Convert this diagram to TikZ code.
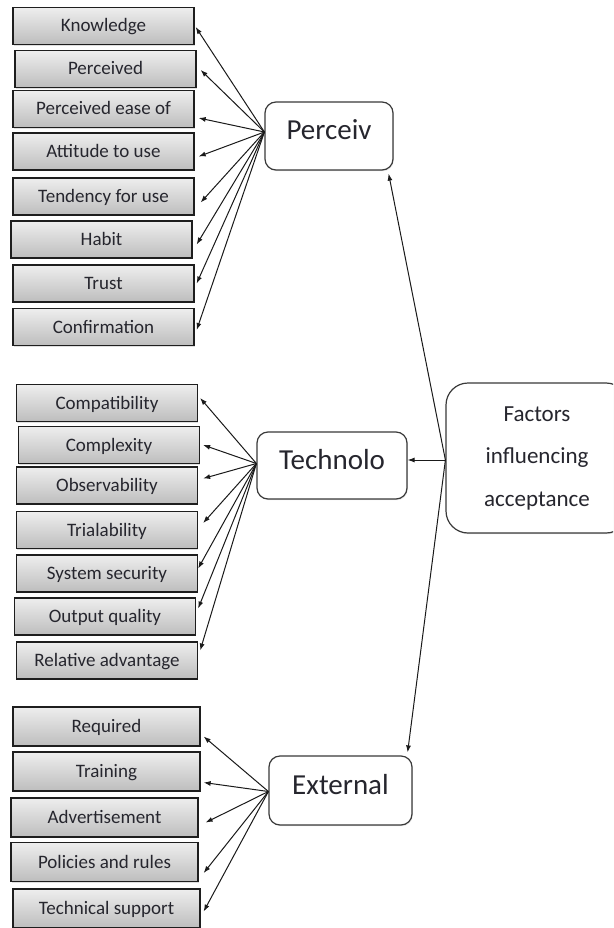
\documentclass[tikz,border=0pt]{standalone}
\usepackage{fontspec}
\setmainfont{Carlito}
\usetikzlibrary{arrows.meta,shadows}
\definecolor{txt}{HTML}{26262E}
\definecolor{boxline}{HTML}{1E1E1E}
\definecolor{hubline}{HTML}{3A3A3A}
\definecolor{arrline}{HTML}{1A1A1A}
\definecolor{gtop}{HTML}{EEEEEE}
\definecolor{gbot}{HTML}{BDBDBD}
\begin{document}
\begin{tikzpicture}[x=1pt,y=-1pt,
  leaf/.style={draw=boxline, line width=1.3pt, top color=gtop, bottom color=gbot,
    minimum width=181pt, minimum height=37pt, inner sep=0pt,
    font=\fontsize{19}{21}\selectfont, text=txt,
    text height=12pt, text depth=0pt,
    drop shadow={shadow xshift=0.8pt, shadow yshift=-1.2pt, opacity=0.25}},
  wideleaf/.style={leaf, minimum width=187pt, minimum height=39pt},
  hub/.style={draw=hubline, line width=1.2pt, fill=white, rounded corners=11pt,
    inner sep=0pt, text=txt, font=\fontsize{29}{32}\selectfont,
    text height=20pt, text depth=12.5pt,
    drop shadow={shadow xshift=0.8pt, shadow yshift=-1.2pt, opacity=0.2}},
  arr/.style={draw=arrline, line width=1pt, -{Latex[length=7pt,width=5pt]}}]
\useasboundingbox (0,0) rectangle (613,928);
\fill[white] (0,0) rectangle (613,928);
\clip (0,0) rectangle (613,928);

% hubs
\node[hub, minimum width=128pt, minimum height=68pt] (perc) at (329,136) {Perceiv};
\node[hub, minimum width=150pt, minimum height=67pt] (tech) at (332,465.5) {Technolo};
\node[hub, minimum width=143pt, minimum height=69pt] (ext) at (340.5,790.5) {External};
\node[hub, rounded corners=22pt, minimum width=182pt, minimum height=150pt,
  text height=, text depth=, align=center, font=\fontsize{23}{42.5}\selectfont]
  (fac) at (537,458) {Factors\\influencing\\acceptance};

% perceived group
\node[leaf] (p1) at (103.5,26) {Knowledge};
\node[leaf] (p2) at (105.5,69) {Perceived};
\node[leaf] (p3) at (103.5,109) {Perceived ease of};
\node[leaf] (p4) at (103.5,151.5) {Attitude to use};
\node[leaf] (p5) at (103.5,196.5) {Tendency for use};
\node[leaf] (p6) at (101.5,239.5) {Habit};
\node[leaf] (p7) at (103.5,283.5) {Trust};
\node[leaf] (p8) at (103.5,327) {Confirmation};

% technology group
\node[leaf] (t1) at (107,403) {Compatibility};
\node[leaf] (t2) at (109,445) {Complexity};
\node[leaf] (t3) at (107,485.5) {Observability};
\node[leaf] (t4) at (107,530) {Trialability};
\node[leaf] (t5) at (107,573.5) {System security};
\node[leaf] (t6) at (105,616.5) {Output quality};
\node[leaf] (t7) at (107,660.5) {Relative advantage};

% external group
\node[wideleaf] (e1) at (106.5,726.5) {Required};
\node[wideleaf] (e2) at (106.5,771.5) {Training};
\node[wideleaf] (e3) at (104.5,817.5) {Advertisement};
\node[wideleaf] (e4) at (104.5,862) {Policies and rules};
\node[wideleaf] (e5) at (106.5,908.5) {Technical support};

% arrows from Perceiv
\coordinate (ps) at ([shift={(0,-4)}]perc.west);
\draw[arr] (ps) -- ([shift={(1,1)}]p1.east);
\draw[arr] (ps) -- ([shift={(4,1)}]p2.east);
\draw[arr] (ps) -- ([shift={(4,9)}]p3.east);
\draw[arr] (ps) -- ([shift={(4,5)}]p4.east);
\draw[arr] (ps) -- ([shift={(6,6)}]p5.east);
\draw[arr] (ps) -- ([shift={(4,5)}]p6.east);
\draw[arr] (ps) -- ([shift={(2,0)}]p7.east);
\draw[arr] (ps) -- ([shift={(2,3)}]p8.east);

% arrows from Technolo
\coordinate (ts) at ([shift={(0,-2)}]tech.west);
\draw[arr] (ts) -- ([shift={(2,-5)}]t1.east);
\draw[arr] (ts) -- ([shift={(3,0)}]t2.east);
\draw[arr] (ts) -- ([shift={(5,-7)}]t3.east);
\draw[arr] (ts) -- ([shift={(5,-7)}]t4.east);
\draw[arr] (ts) -- ([shift={(0,-5)}]t5.east);
\draw[arr] (ts) -- ([shift={(2,-8)}]t6.east);
\draw[arr] (ts) -- ([shift={(2,-10)}]t7.east);

% arrows from External
\coordinate (es) at ([shift={(0,1)}]ext.west);
\draw[arr] (es) -- ([shift={(3,10)}]e1.east);
\draw[arr] (es) -- ([shift={(3,11)}]e2.east);
\draw[arr] (es) -- ([shift={(7,5)}]e3.east);
\draw[arr] (es) -- ([shift={(5,11)}]e4.east);
\draw[arr] (es) -- ([shift={(3,3)}]e5.east);

% arrows from Factors
\coordinate (fs) at ([shift={(0,2)}]fac.west);
\draw[arr] (fs) -- ([shift={(-5,3)}]perc.south east);
\draw[arr] (fs) -- (fs -| tech.east);
\draw[arr] (fs) -- ([shift={(-5,-3)}]ext.north east);
\end{tikzpicture}
\end{document}
